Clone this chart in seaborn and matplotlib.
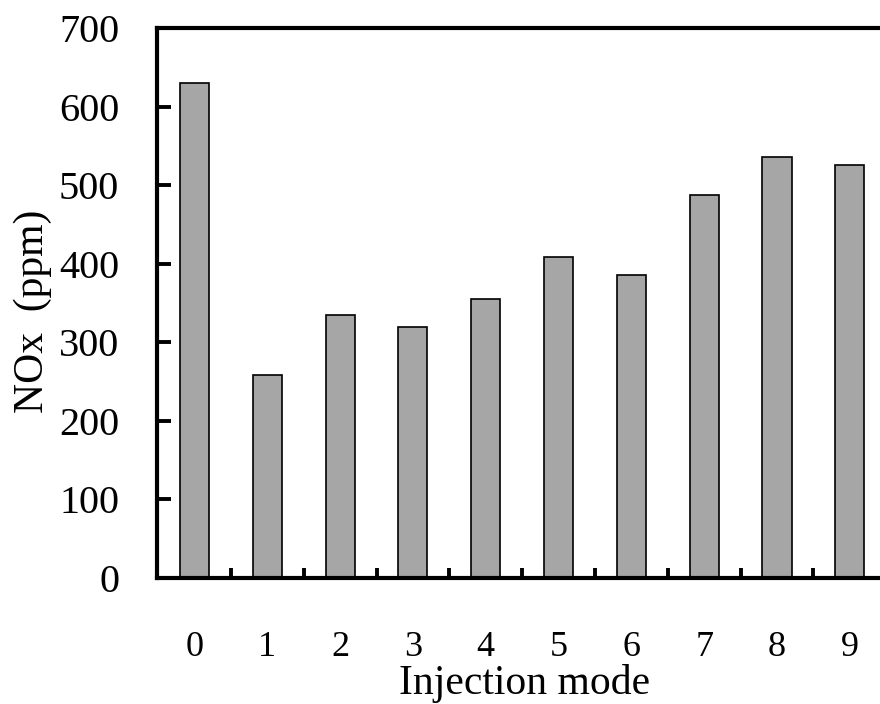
import matplotlib
matplotlib.use("Agg")
import matplotlib.pyplot as plt
import seaborn as sns
import pandas as pd
from matplotlib.ticker import FixedLocator

modes = ["0", "1", "2", "3", "4", "5", "6", "7", "8", "9"]
nox = [630, 258, 335, 319, 355, 409, 386, 488, 536, 526]
yticks = [0, 100, 200, 300, 400, 500, 600, 700]

sns.set_theme(style="white")
plt.rcParams['font.family'] = ['Liberation Serif', 'DejaVu Serif']

fig = plt.figure(figsize=(8.8, 7.04), dpi=100)
ax = fig.add_axes([0.178, 0.179, 0.829, 0.781])

df = pd.DataFrame({"mode": modes, "nox": nox})
sns.barplot(data=df, x="mode", y="nox", color="#a6a6a6", saturation=1,
            edgecolor="black", linewidth=1.2, width=0.4, ax=ax)

ax.set_xlim(-0.52, 9.5)
ax.set_ylim(0, 700)
ax.set_yticks(yticks)
ax.set_yticklabels([str(v) for v in yticks])

for s in ["left", "bottom", "top"]:
    ax.spines[s].set_visible(True)
    ax.spines[s].set_linewidth(3.0)
    ax.spines[s].set_color("black")
ax.spines["right"].set_visible(False)

ax.tick_params(axis="y", direction="in", length=10, width=2.8, pad=27,
               labelsize=29, colors="black", left=True)
ax.tick_params(axis="x", which="major", length=0, pad=38, labelsize=26,
               colors="black")
ax.xaxis.set_minor_locator(FixedLocator([i + 0.5 for i in range(9)]))
ax.tick_params(axis="x", which="minor", direction="in", length=7, width=2.8,
               bottom=True, colors="black")

ax.set_xlabel("Injection mode", fontsize=30, color="black")
ax.set_ylabel("NOx  (ppm)", fontsize=30, color="black")
ax.xaxis.set_label_coords(0.505, -0.192)
ax.yaxis.set_label_coords(-0.17, 0.485)
ax.xaxis.label.set_verticalalignment("center")
ax.yaxis.label.set_verticalalignment("center")

fig.savefig("out.png", dpi=100)
